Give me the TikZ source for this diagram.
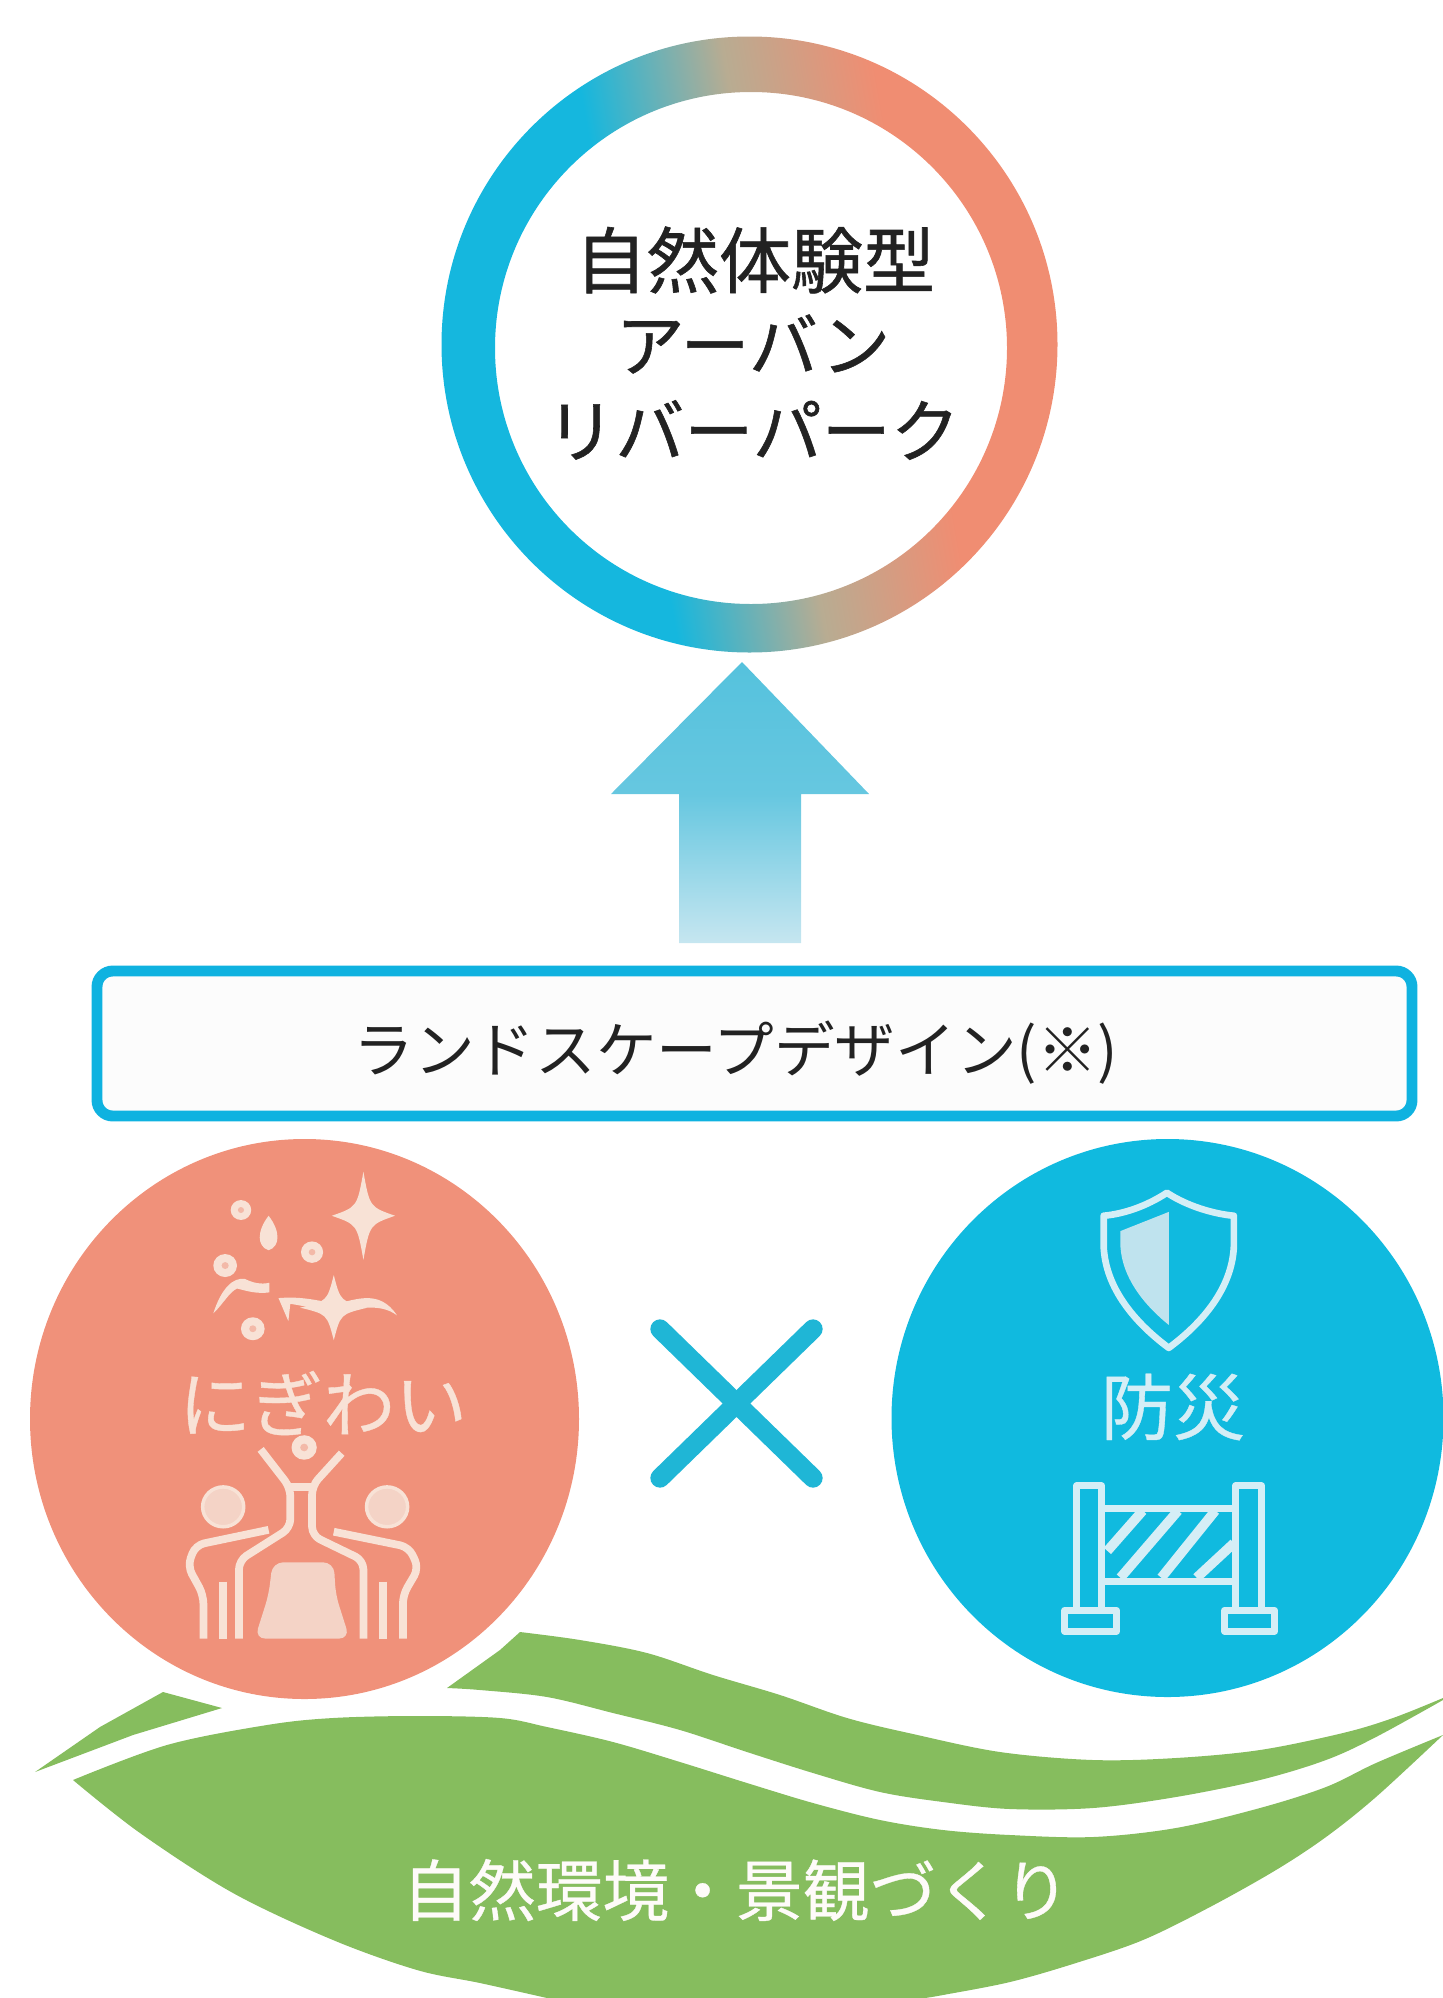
\documentclass[tikz,border=0pt]{standalone}
\usepackage{fontspec}
\newfontfamily\jp{Noto Sans CJK JP}
\newfontfamily\jpb[FakeBold=0.8]{Noto Sans CJK JP}
\newfontfamily\jpc[FakeBold=0.5]{Noto Sans CJK JP}
\definecolor{ringblue}{HTML}{15B7DE}
\definecolor{ringsalmon}{HTML}{F08D72}
\definecolor{ringtan}{HTML}{B8AC92}
\definecolor{salmon}{HTML}{F0917A}
\definecolor{skyblue}{HTML}{10BADF}
\definecolor{leaf}{HTML}{86BD5E}
\definecolor{boxblue}{HTML}{0FB2E0}
\definecolor{crossblue}{HTML}{1FB6D6}
\definecolor{creamy}{HTML}{F8E2D6}
\definecolor{creamfill}{HTML}{F4D3C6}
\definecolor{iceline}{HTML}{D5EEF6}
\definecolor{icefill}{HTML}{BFE3EE}
\definecolor{inkdark}{HTML}{222222}
\definecolor{arrowtop}{HTML}{55C2DD}
\definecolor{arrowmid}{HTML}{66C7E0}
\definecolor{arrowbot}{HTML}{C6E6F0}
\pgfdeclarehorizontalshading{ringshade}{100bp}{
  color(0bp)=(ringblue); color(40bp)=(ringblue); color(52bp)=(ringtan);
  color(64bp)=(ringsalmon); color(100bp)=(ringsalmon)}
\pgfdeclareverticalshading{arrowshade}{100bp}{
  color(0bp)=(arrowbot); color(25bp)=(arrowbot); color(51.5bp)=(arrowmid);
  color(75bp)=(arrowtop); color(100bp)=(arrowtop)}
\tikzset{
  jplabel/.style={inner sep=0pt,font=\jp},
  iconline/.style={draw=creamy,line width=4.4pt,rounded corners=5pt,line join=round},
  iceicon/.style={draw=iceline,line width=3.8pt,line join=round},
}
\newcommand{\sparklestar}[5]{%
  \fill[#5,shift={(#1,#2)},xscale=#3,yscale=#4]
    (0,-1) .. controls (.2,-.2) .. (1,0) .. controls (.2,.2) .. (0,1)
    .. controls (-.2,.2) .. (-1,0) .. controls (-.2,-.2) .. (0,-1) -- cycle;}
\newcommand{\flowerdot}[3]{%
  \fill[creamy] (#1,#2) circle[radius=#3];
  \fill[creamfill!60!salmon] (#1,#2) circle[radius=#3*0.3];}
\begin{document}
\begin{tikzpicture}[x=0.02cm,y=-0.02cm]
\useasboundingbox (0,0) rectangle (1443,1998);
% ring
\path[even odd rule,shade,shading=ringshade,shading angle=10]
  (749.5,344.5) circle[radius=308] (751,348) circle[radius=256];
\node[jplabel,text=inkdark,font=\jpb\fontsize{41pt}{42pt}\selectfont] (t1) at (755,260) {自然体験型};
\node[jplabel,text=inkdark,font=\jpb\fontsize{39.3pt}{40pt}\selectfont] (t2) at (753,344) {アーバン};
\node[jplabel,text=inkdark,font=\jpb\fontsize{39.3pt}{40pt}\selectfont] (t3) at (753,430) {リバーパーク};
% arrow
\path[shade,shading=arrowshade]
  (742,662) -- (869,794) -- (801,794) -- (801,943) -- (679,943) -- (679,794) -- (611,794) -- cycle;
% box
\node[draw=boxblue,line width=6.2pt,fill=white!99!black,rounded corners=9pt,
      minimum width=1315*0.02cm,minimum height=145*0.02cm,inner sep=0pt] (box) at (754.5,1043.5) {};
\node[jplabel,text=inkdark,font=\jp\fontsize{34.5pt}{36pt}\selectfont] (boxt) at (736,1053) {ランドスケープデザイン(※)};
% circles
\fill[salmon] (304.5,1419) circle[x radius=274.5,y radius=280];
\fill[skyblue] (1167.5,1418) circle[x radius=276,y radius=279];
% cross
\draw[crossblue,line width=11pt,line cap=round] (660,1329) -- (813,1478);
\draw[crossblue,line width=11pt,line cap=round] (813,1329) -- (660,1478);
% green band shapes
\fill[leaf] (447,1688) -- (500,1650) -- (520,1632)
  -- plot[smooth,tension=.55] coordinates {(520,1632) (580,1640) (647,1653) (713,1675) (780,1695) (847,1718) (913,1734) (1000,1752) (1093,1760) (1176,1758) (1260,1750) (1343,1733) (1393,1718) (1443,1698)}
  -- plot[smooth,tension=.55] coordinates {(1443,1700) (1376,1737) (1326,1760) (1260,1780) (1176,1797) (1093,1808) (1010,1809) (943,1802) (880,1792) (813,1773) (747,1752) (680,1730) (613,1713) (547,1697) (480,1690) (447,1688)}
  -- cycle;
\fill[leaf] (35,1772) -- (100,1727) -- (163,1692) -- (222,1708) -- (133,1735) -- cycle;
\fill[leaf]
  plot[smooth,tension=.55] coordinates {(73,1780) (167,1745) (267,1725) (333,1718) (417,1716) (500,1718) (547,1727) (613,1742) (680,1762) (747,1783) (813,1803) (880,1820) (943,1830) (1010,1835) (1093,1837) (1176,1828) (1260,1808) (1326,1787) (1376,1763) (1443,1735)}
  -- plot[smooth,tension=.55] coordinates {(1443,1735) (1376,1797) (1326,1837) (1276,1870) (1210,1907) (1143,1940) (1076,1963) (1010,1982) (943,1995) (925,1998)}
  -- (547,1998)
  -- plot[smooth,tension=.55] coordinates {(547,1998) (480,1983) (417,1970) (333,1940) (233,1893) (140,1833) (73,1780)}
  -- cycle;
% labels
\node[jplabel,text=white!85!creamy,font=\jpc\fontsize{38pt}{39pt}\selectfont] (nature) at (736,1890) {自然環境・景観づくり};
\node[jplabel,text=creamy,font=\jpc\fontsize{41pt}{42pt}\selectfont] (nigiwai) at (323,1403) {にぎわい};
\node[jplabel,text=iceline,font=\jpc\fontsize{41pt}{42pt}\selectfont] (bousai) at (1173,1407) {防災};
% festive icon
\begin{scope}[shift={(0,1120)},xscale=0.395,yscale=0.383]
  \sparklestar{920}{250}{80}{115}{creamy}
  \sparklestar{845}{490}{85}{85}{creamy}
  \flowerdot{610}{235}{26}
  \flowerdot{790}{345}{28}
  \flowerdot{570}{380}{30}
  \flowerdot{640}{545}{30}
  \fill[creamy] (680,250) .. controls (710,290) and (710,330) .. (680,340) .. controls (650,330) and (650,290) .. (680,250) -- cycle;
  \fill[creamy] (540,505) .. controls (560,440) and (590,410) .. (620,415) .. controls (640,425) and (660,430) .. (682,425)
     -- (682,450) .. controls (650,455) and (620,445) .. (600,440) .. controls (580,450) and (565,480) .. (540,505) -- cycle;
  \fill[creamy] (705,465) .. controls (760,460) and (800,470) .. (850,480) -- (850,500) .. controls (800,495) and (770,485) .. (735,480) -- (730,525) -- cycle;
  \fill[creamy] (850,480) .. controls (900,470) and (960,440) .. (1005,510) .. controls (960,475) and (900,495) .. (850,500) -- cycle;
  \fill[creamy] (770,855) circle[radius=32];
  \fill[creamfill!60!salmon] (770,855) circle[radius=10];
  \draw[iconline] (660,860) -- (735,960) -- (735,1065) -- (605,1150) -- (605,1354);
  \draw[iconline] (865,870) -- (790,955) -- (790,1085) -- (920,1150) -- (920,1354);
  \draw[iconline] (730,958) -- (795,958);
  \fill[creamfill] (565,1010) circle[radius=52];
  \fill[creamfill] (980,1010) circle[radius=52];
  \draw[draw=creamy,line width=2pt] (565,1010) circle[radius=52] (980,1010) circle[radius=52];
  \draw[iconline] (680,1070) -- (495,1110) -- (475,1165) -- (515,1240) -- (515,1354);
  \draw[iconline] (845,1075) -- (1035,1115) -- (1060,1170) -- (1020,1240) -- (1020,1354);
  \draw[iconline] (565,1205) -- (565,1354);
  \draw[iconline] (970,1205) -- (970,1354);
  \fill[creamfill,rounded corners=6pt] (690,1155) -- (845,1155) -- (850,1240) -- (885,1354) -- (645,1354) -- (680,1240) -- cycle;
\end{scope}
% shield and barrier
\begin{scope}[shift={(860,1120)},xscale=0.372,yscale=0.383]
  \draw[iceicon] (825,190) .. controls (880,225) and (950,245) .. (1005,250) -- (1005,330) .. controls (1000,440) and (920,530) .. (830,595)
     .. controls (740,530) and (660,440) .. (655,330) -- (655,250) .. controls (710,245) and (770,225) .. (825,190) -- cycle;
  \fill[icefill] (830,240) -- (700,290) -- (700,330) .. controls (705,410) and (760,480) .. (830,535) -- cycle;
  \draw[iceicon] (582,955) rectangle (650,1280);
  \draw[iceicon] (1010,955) rectangle (1080,1280);
  \draw[iceicon] (550,1280) rectangle (690,1335);
  \draw[iceicon] (980,1280) rectangle (1115,1335);
  \draw[iceicon] (650,1015) -- (1010,1015);
  \draw[iceicon] (650,1205) -- (1010,1205);
  \draw[iceicon,line width=5.5pt] (665,1125) -- (760,1020);
  \draw[iceicon,line width=5.5pt] (700,1195) -- (855,1020);
  \draw[iceicon,line width=5.5pt] (810,1195) -- (955,1020);
  \draw[iceicon,line width=5.5pt] (905,1195) -- (1005,1105);
\end{scope}
\end{tikzpicture}
\end{document}
